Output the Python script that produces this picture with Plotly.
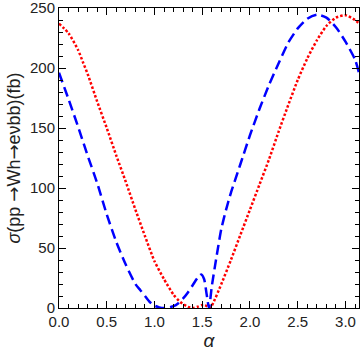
import plotly.graph_objects as go
import math

# Blue dashed curve
alpha_blue = [0.00, 0.10, 0.20, 0.30, 0.40, 0.50, 0.60, 0.70, 0.80, 0.85, 0.90, 0.95,
              1.00, 1.05, 1.10, 1.15, 1.20, 1.25, 1.30, 1.35, 1.40, 1.45, 1.49, 1.52,
              1.545, math.pi / 2, 1.60, 1.65, 1.70, 1.75, 1.80, 1.85, 1.90, 2.00, 2.10,
              2.20, 2.30, 2.40, 2.50, 2.60, 2.70, 2.80, 2.90, 3.00, 3.10, math.pi]
sigma_blue = [196, 174, 151, 127, 104, 78, 55, 36, 20, 15, 10, 5,
              2, 0.5, 0, 0.5, 1.5, 4, 8, 13, 19, 25, 28, 24,
              12, 0, 18, 43, 66, 82, 96, 108, 120, 144, 166,
              186, 204, 221, 233, 241, 244.5, 242, 234, 222, 207, 196]

# Red dotted curve
alpha_red = [0.00, 0.10, 0.20, 0.25, 0.30, 0.40, 0.50, 0.60, 0.70, 0.80, 0.90, 1.00,
             1.10, 1.20, 1.27, 1.35, 1.40, 1.45, 1.50, 1.53, math.pi / 2, 1.60, 1.70,
             1.80, 1.90, 2.00, 2.10, 2.20, 2.30, 2.40, 2.50, 2.60, 2.70, 2.80, 2.90,
             3.00, 3.10, math.pi]
sigma_red = [237, 229, 215, 205, 195, 172, 150, 127, 105, 82, 60, 39,
             24, 11, 5, 1, 0, 1, 2.5, 2.5, 0, 2, 20,
             40, 61, 82, 103, 124, 147, 169, 190, 208, 223, 235, 242,
             244, 240, 237]

x_ticks = [0.0, 0.5, 1.0, 1.5, 2.0, 2.5, 3.0]
y_ticks = [0, 50, 100, 150, 200, 250]

x_range = [0, math.pi]
y_range = [0, 250.001]

fig = go.Figure()

fig.add_trace(go.Scatter(
    x=alpha_red, y=sigma_red, mode='lines',
    line=dict(color='rgb(255,0,0)', width=2.5, dash='2.5px,2px', shape='spline', smoothing=0.6),
    showlegend=False
))
fig.add_trace(go.Scatter(
    x=alpha_blue, y=sigma_blue, mode='lines',
    line=dict(color='rgb(0,0,255)', width=2.5, dash='10px,5px', shape='spline', smoothing=0.6),
    showlegend=False
))
# invisible trace to carry the mirrored top/right axes
fig.add_trace(go.Scatter(
    x=x_range, y=[0, 0], xaxis='x2', yaxis='y2', mode='lines',
    line=dict(width=0), hoverinfo='skip', showlegend=False
))

tick_style = dict(
    showline=True, linecolor='black', linewidth=1, mirror='ticks',
    ticks='inside', ticklen=7, tickwidth=1, tickcolor='black',
    showgrid=False, zeroline=False, automargin=False,
    ticklabeloverflow='allow',
    tickfont=dict(size=15, color='#222'),
)
x_minor = dict(dtick=0.1, tick0=0, ticks='inside', ticklen=4, tickcolor='black')
y_minor = dict(dtick=10, tick0=0, ticks='inside', ticklen=4, tickcolor='black')

arrow = '<span style="font-family:DejaVu Sans">→</span>'
y_title = '<i>σ</i>(pp ' + arrow + 'Wh' + arrow + 'eνbb)(fb)'

fig.update_layout(
    width=360, height=356,
    margin=dict(l=59, r=1, t=8, b=48),
    plot_bgcolor='white', paper_bgcolor='white',
    font=dict(family='Liberation Sans, Arial, sans-serif'),
    xaxis=dict(
        range=x_range, tickvals=x_ticks, ticktext=['%.1f' % v for v in x_ticks],
        minor=x_minor,
        title=dict(text='<i>α</i>', font=dict(size=19, color='#222'), standoff=2),
        **tick_style
    ),
    yaxis=dict(
        range=y_range, tickvals=y_ticks, ticktext=[str(v) for v in y_ticks],
        minor=y_minor,
        title=dict(text=y_title, font=dict(size=18, color='#222'), standoff=4),
        **tick_style
    ),
    xaxis2=dict(
        range=x_range, tickvals=x_ticks, overlaying='x', side='top',
        showticklabels=False, minor=x_minor, **tick_style
    ),
    yaxis2=dict(
        range=y_range, tickvals=y_ticks, overlaying='y', side='right',
        showticklabels=False, minor=y_minor, **tick_style
    ),
)

fig.write_html("out.html", config={'displayModeBar': False},
               post_script="document.body.style.margin='0';")
